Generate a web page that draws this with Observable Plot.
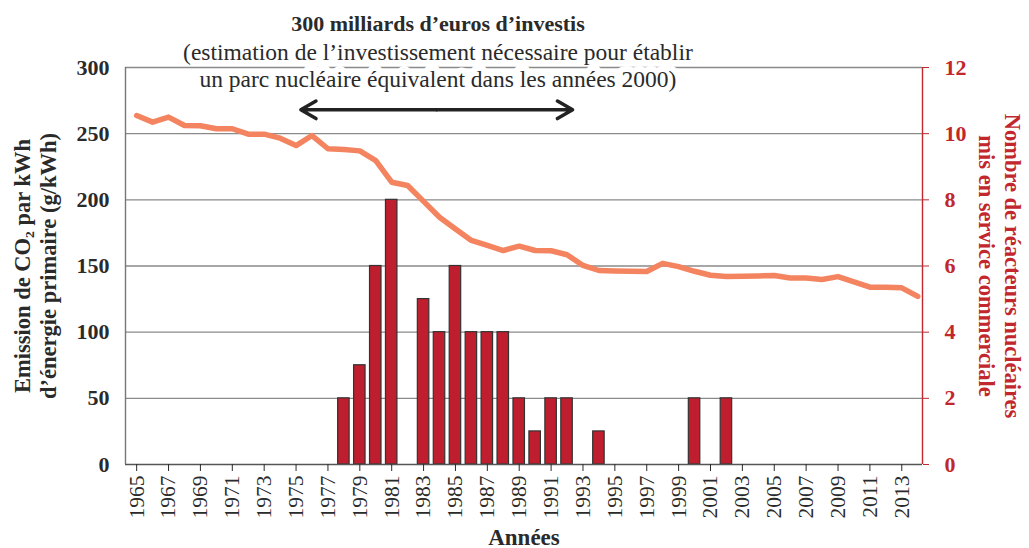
<!DOCTYPE html>
<html><head><meta charset="utf-8">
<script src="https://cdn.jsdelivr.net/npm/d3@7"></script>
<script src="https://cdn.jsdelivr.net/npm/@observablehq/plot@0.6"></script>
<style>body{margin:0;background:#fff} svg{display:block}</style>
</head><body><div id="chart"></div>
<script>
// ---- data ----
const years = [1965,1966,1967,1968,1969,1970,1971,1972,1973,1974,1975,1976,1977,1978,1979,1980,1981,1982,1983,1984,1985,1986,1987,1988,1989,1990,1991,1992,1993,1994,1995,1996,1997,1998,1999,2000,2001,2002,2003,2004,2005,2006,2007,2008,2009,2010,2011,2012,2013,2014];
const co2 = [263.7,258.7,262.5,256.2,256,253.7,253.7,249.6,249.6,246.6,241,248.6,238.6,238,237,229.7,213.3,210.8,198.8,186.9,178,169.3,165.5,161.7,165,161.7,161.5,158.5,150.4,146.6,146.3,146,145.8,152,149.5,146,143,142,142.2,142.5,142.8,141,141,139.8,142,138,134,134,133.5,127];
const reacteurs = [0,0,0,0,0,0,0,0,0,0,0,0,0,2,3,6,8,0,5,4,6,4,4,4,2,1,2,2,0,1,0,0,0,0,0,2,0,2,0,0,0,0,0,0,0,0,0,0,0,0];
const xTicks = [1965,1967,1969,1971,1973,1975,1977,1979,1981,1983,1985,1987,1989,1991,1993,1995,1997,1999,2001,2003,2005,2007,2009,2011,2013];
const leftTicks = [0,50,100,150,200,250,300];
const rightTicks = [0,2,4,6,8,10,12];
const investSpan = [1975.3, 1992.35];
const investLevel = 268;
const annoTitle = "300 milliards d’euros d’investis";
const annoLine2 = "(estimation de l’investissement nécessaire pour établir";
const annoLine3 = "un parc nucléaire équivalent dans les années 2000)";
const leftTitle = "Emission de CO₂ par kWh\nd’énergie primaire (g/kWh)";
const rightTitle = "Nombre de réacteurs nucléaires\nmis en service commerciale";
const xTitle = "Années";

// ---- derived ----
const xDomain = [1964.3, 2014.3];
const ratio = 300 / 12;
const rows = years.map((y, i) => ({year: y, co2: co2[i], n: reacteurs[i]}));
const bars = rows.filter(d => d.n > 0);
const mid = (investSpan[0] + investSpan[1]) / 2;
const arrows = [{a: mid, b: investSpan[0]}, {a: mid, b: investSpan[1]}];
const annoX = 1983.9;

const red = "#c1272d";
const ink = "#2a2a2a";
const font = "'Liberation Serif', 'DejaVu Serif', serif";

const chart = Plot.plot({
  width: 1029, height: 548,
  marginTop: 67, marginBottom: 84, marginLeft: 125, marginRight: 107,
  style: {fontFamily: font, fontSize: "20px", color: ink, background: "#fff"},
  x: {domain: xDomain},
  y: {domain: [0, 300]},
  marks: [
    Plot.gridY(leftTicks.slice(1), {stroke: "#8a8a8a", strokeOpacity: 1, strokeWidth: 1.3}),
    Plot.rect(bars, {x1: d => d.year - 0.36, x2: d => d.year + 0.36, y1: d => 0, y2: d => d.n * ratio,
      fill: "#be1e2d", stroke: "#333", strokeWidth: 1.2}),
    Plot.line(rows, {x: "year", y: "co2", stroke: "#f4845f", strokeWidth: 5.5}),
    Plot.ruleX([xDomain[0]], {stroke: "#777", strokeWidth: 1.4}),
    Plot.ruleY([0], {stroke: "#555", strokeWidth: 1.4}),
    Plot.ruleX([xDomain[1]], {stroke: red, strokeWidth: 1.4}),
    Plot.axisY(leftTicks, {anchor: "left", tickSize: 0, tickPadding: 16, fontSize: 22, fontWeight: "bold", color: ink, label: null}),
    Plot.axisY(rightTicks.map(t => t * ratio), {anchor: "right", tickSize: 6, tickPadding: 16, tickFormat: d => d / ratio,
      fontSize: 22, fontWeight: "bold", color: red, label: null}),
    Plot.axisX(xTicks, {anchor: "bottom", tickSize: 7, tickPadding: 4, tickRotate: -90, tickFormat: d => String(d),
      fontSize: 21.5, color: ink, label: null}),
    Plot.text([annoTitle], {x: () => annoX, frameAnchor: "top", dy: -52, text: d => d, fontWeight: "bold", fontSize: 22, fill: ink}),
    Plot.text([annoLine2], {x: () => annoX, frameAnchor: "top", dy: -24, text: d => d, fontSize: 23.5, fill: ink}),
    Plot.text([annoLine3], {x: () => annoX, frameAnchor: "top", dy: 3, text: d => d, fontSize: 23.5, fill: ink, stroke: "white", strokeWidth: 12}),
    Plot.arrow(arrows, {x1: "a", x2: "b", y1: () => investLevel, y2: () => investLevel, stroke: "#222", strokeWidth: 3.5, headLength: 7.5}),
    Plot.text([leftTitle], {frameAnchor: "left", textAnchor: "middle", dx: -91, rotate: -90, text: d => d, fontWeight: "bold", fontSize: 22.5, lineHeight: 1.15, fill: ink}),
    Plot.text([rightTitle], {frameAnchor: "right", textAnchor: "middle", dx: 78, rotate: 90, text: d => d, fontWeight: "bold", fontSize: 22.5, lineHeight: 1.15, fill: red}),
    Plot.text([xTitle], {frameAnchor: "bottom", dy: 80, text: d => d, fontWeight: "bold", fontSize: 23, fill: ink})
  ]
});
document.getElementById("chart").appendChild(chart);
</script>
</body></html>
